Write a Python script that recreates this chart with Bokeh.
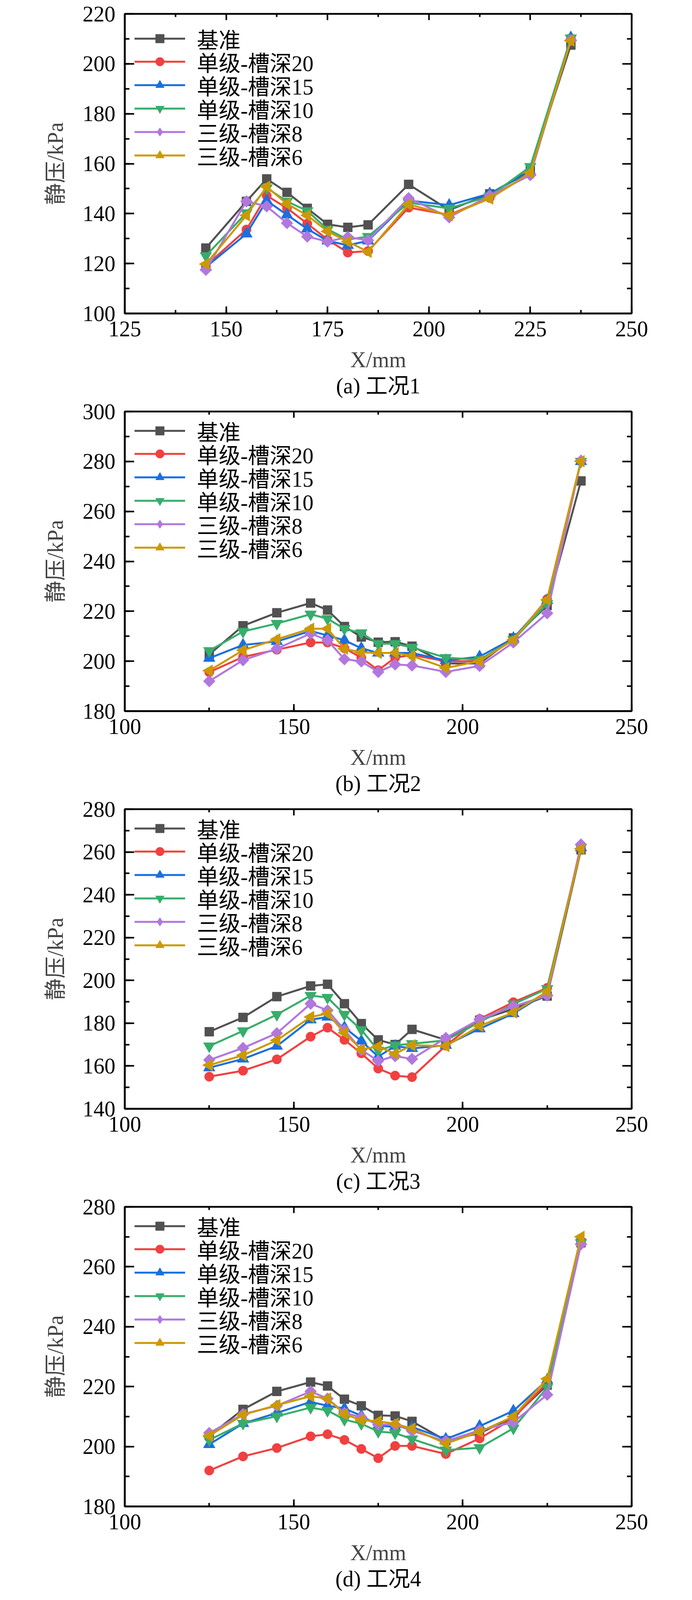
import numpy as np
from bokeh.plotting import figure
from bokeh.models import (Range1d, LinearAxis, SingleIntervalTicker, FixedTicker, Title,
                          Legend, LegendItem)
from bokeh.layouts import column
from bokeh.embed import file_html
from bokeh.resources import INLINE

# ---------------- data ----------------
series_names = ["基准", "单级-槽深20", "单级-槽深15", "单级-槽深10", "三级-槽深8", "三级-槽深6"]

x_case1 = [145, 155, 160, 165, 170, 175, 180, 185, 195, 205, 215, 225, 235]
c1_base = [126.2, 144.9, 153.9, 148.5, 142.1, 135.7, 134.5, 135.5, 151.7, 141.4, 147.9, 157.3, 207.5]
c1_s20 = [119.1, 133.6, 147.2, 142.2, 136.0, 129.6, 124.4, 125.0, 142.4, 139.5, 146.3, 156.0, 210.2]
c1_s15 = [118.6, 131.9, 145.2, 139.5, 133.9, 129.1, 127.3, 129.1, 145.2, 143.4, 148.0, 156.8, 210.5]
c1_s10 = [123.1, 140.3, 150.3, 144.9, 141.1, 133.7, 129.6, 130.8, 144.4, 142.1, 147.0, 158.8, 210.3]
c1_t8 = [117.5, 144.9, 142.9, 136.2, 130.8, 128.8, 130.6, 129.3, 146.2, 138.5, 147.2, 155.4, 209.5]
c1_t6 = [119.8, 139.3, 150.8, 143.9, 139.3, 132.9, 128.8, 124.7, 143.7, 139.3, 146.0, 156.4, 209.3]

x_case234 = [125, 135, 145, 155, 160, 165, 170, 175, 180, 185, 195, 205, 215, 225, 235]
c2_base = [202.7, 214.2, 219.4, 223.3, 220.5, 213.9, 209.7, 207.6, 207.8, 206.0, 199.1, 199.1, 209.3, 222.3, 272.2]
c2_s20 = [195.6, 201.7, 204.6, 207.5, 207.5, 205.2, 201.4, 196.4, 201.4, 202.5, 200.0, 200.0, 208.6, 224.9, 280.1]
c2_s15 = [201.2, 206.5, 207.9, 212.1, 210.3, 208.4, 205.2, 203.3, 203.3, 203.3, 200.3, 201.8, 209.2, 224.3, 280.0]
c2_s10 = [204.2, 211.9, 215.1, 218.8, 217.0, 213.0, 211.3, 207.0, 207.0, 205.5, 201.4, 200.6, 208.6, 223.0, 280.0]
c2_t8 = [192.0, 200.4, 205.0, 211.1, 208.4, 200.8, 199.9, 195.7, 198.7, 198.3, 195.7, 198.1, 207.5, 219.2, 280.3]
c2_t6 = [196.2, 204.4, 208.8, 213.0, 213.0, 205.0, 203.5, 203.3, 203.3, 202.1, 197.3, 200.0, 208.6, 224.6, 280.1]

c3_base = [176.0, 182.7, 192.4, 197.4, 198.2, 189.1, 179.8, 172.2, 170.0, 177.1, 172.2, 181.4, 186.7, 192.7, 261.0]
c3_s20 = [155.0, 157.8, 163.1, 173.7, 177.9, 172.2, 165.9, 158.8, 155.5, 154.8, 169.5, 182.0, 189.8, 196.5, 262.0]
c3_s15 = [159.2, 163.3, 169.3, 181.6, 182.9, 178.0, 171.7, 164.4, 169.3, 168.2, 169.7, 177.4, 184.5, 194.3, 262.0]
c3_s10 = [169.3, 176.4, 184.0, 192.9, 192.0, 184.1, 176.9, 167.3, 169.7, 170.4, 172.0, 180.5, 188.9, 196.1, 262.0]
c3_t8 = [162.8, 168.4, 175.3, 189.1, 186.0, 176.9, 167.5, 162.4, 164.6, 163.3, 173.1, 181.8, 187.8, 192.9, 263.5]
c3_t6 = [160.4, 165.0, 172.0, 182.9, 184.5, 175.5, 167.7, 169.1, 165.7, 169.7, 169.3, 178.7, 185.0, 194.8, 261.5]

c4_base = [203.6, 212.4, 218.4, 221.5, 220.2, 215.8, 213.6, 210.4, 210.2, 208.4, 202.0, 204.4, 209.8, 220.5, 268.0]
c4_s20 = [192.0, 196.7, 199.5, 203.4, 204.1, 202.2, 199.2, 196.1, 200.2, 200.2, 197.5, 202.7, 209.4, 221.4, 268.0]
c4_s15 = [200.7, 207.7, 211.2, 214.9, 213.6, 212.7, 210.3, 207.0, 206.5, 206.5, 202.5, 206.8, 211.9, 222.2, 268.5]
c4_s10 = [202.2, 207.7, 210.1, 213.0, 212.0, 209.0, 207.6, 205.0, 204.5, 202.5, 198.8, 199.6, 206.1, 219.7, 268.0]
c4_t8 = [204.5, 210.8, 213.6, 218.4, 216.0, 211.2, 209.8, 207.3, 207.3, 205.2, 201.8, 205.4, 208.1, 217.3, 267.5]
c4_t6 = [203.6, 210.6, 213.8, 216.8, 216.0, 210.8, 208.8, 208.4, 207.6, 206.0, 201.0, 204.9, 210.0, 222.6, 270.0]

# axis ranges and tick steps
x_range_case1 = (125, 250)
x_range_case234 = (100, 250)
y_ranges = [(100, 220), (180, 300), (140, 280), (180, 280)]
x_step = [25, 50, 50, 50]
y_step = 20

captions = ["(a) 工况1", "(b) 工况2", "(c) 工况3", "(d) 工况4"]
x_label = "X/mm"
y_label = "静压/kPa"

# ---------------- styles ----------------
FONT = "Liberation Serif, Noto Sans CJK SC"
FS = "56px"
colors = ["#515151", "#F14040", "#1A6FDF", "#37AD6B", "#B177DE", "#CC9900"]
markers = ["square", "circle", "triangle", "inverted_triangle", "square", "triangle"]
msizes = [23, 24, 30, 30, 21.5, 30]
angles = [0, 0, 0, 0, np.pi / 4, np.pi / 2]

# the photographed viewport is only about 1772 x 4100 px: the four panels are stacked to fit it
FW, FH = 1298, 767
BL, BR, BT, BB = 319, 139, 35, 216
ITEM_H = 81            # legend row box height for 56px text
ROW_PITCH = 59.8       # distance between legend rows

panels = [
    dict(x=x_case1, ys=[c1_base, c1_s20, c1_s15, c1_s10, c1_t8, c1_t6],
         xr=x_range_case1, yr=y_ranges[0], xint=x_step[0], leg=63),
    dict(x=x_case234, ys=[c2_base, c2_s20, c2_s15, c2_s10, c2_t8, c2_t6],
         xr=x_range_case234, yr=y_ranges[1], xint=x_step[1], leg=49),
    dict(x=x_case234, ys=[c3_base, c3_s20, c3_s15, c3_s10, c3_t8, c3_t6],
         xr=x_range_case234, yr=y_ranges[2], xint=x_step[2], leg=49),
    dict(x=x_case234, ys=[c4_base, c4_s20, c4_s15, c4_s10, c4_t8, c4_t6],
         xr=x_range_case234, yr=y_ranges[3], xint=x_step[3], leg=49),
]


def tick_values(lo, hi, step):
    major = list(np.arange(lo, hi + step / 2, step))
    minor = list(np.arange(lo + step / 2, hi, step))
    return major, minor


def style_axis(ax, major_len, minor_len):
    ax.axis_line_width = 4.5
    ax.axis_line_color = "black"
    ax.major_tick_line_width = 4
    ax.minor_tick_line_width = 4
    ax.major_tick_in = major_len
    ax.major_tick_out = 0
    ax.minor_tick_in = minor_len
    ax.minor_tick_out = 0
    ax.major_tick_line_color = "black"
    ax.minor_tick_line_color = "black"
    ax.major_label_text_font = FONT
    ax.major_label_text_font_size = FS
    ax.major_label_text_color = "black"


def mirror_axis(positions, length):
    """tick marks only (no labels) for the top / right frame sides"""
    ax = LinearAxis(ticker=FixedTicker(ticks=[], minor_ticks=positions))
    ax.axis_line_color = None
    ax.major_tick_line_color = None
    ax.minor_tick_line_color = "black"
    ax.minor_tick_line_width = 4
    ax.minor_tick_in = length
    ax.minor_tick_out = 0
    ax.major_tick_in = 0
    ax.major_tick_out = 0
    ax.major_label_standoff = 0
    return ax


figs = []
for i, pan in enumerate(panels):
    xr, yr = pan["xr"], pan["yr"]
    p = figure(frame_width=FW, frame_height=FH,
               x_range=Range1d(*xr), y_range=Range1d(*yr),
               output_backend="svg", toolbar_location=None,
               min_border_left=BL, min_border_right=BR,
               min_border_top=BT, min_border_bottom=BB,
               background_fill_color="white", border_fill_color="white")
    p.grid.visible = False
    p.outline_line_color = "black"
    p.outline_line_width = 4.5

    p.xaxis[0].ticker = SingleIntervalTicker(interval=pan["xint"], num_minor_ticks=2)
    p.yaxis[0].ticker = SingleIntervalTicker(interval=y_step, num_minor_ticks=2)
    style_axis(p.xaxis[0], 18, 9)
    style_axis(p.yaxis[0], 24, 12)
    p.xaxis[0].major_label_standoff = 20
    p.yaxis[0].major_label_standoff = 24
    p.yaxis[0].axis_label = y_label
    p.yaxis[0].axis_label_text_font = FONT
    p.yaxis[0].axis_label_text_font_size = FS
    p.yaxis[0].axis_label_text_font_style = "normal"
    p.yaxis[0].axis_label_standoff = 36
    p.xaxis[0].axis_label = x_label
    p.xaxis[0].axis_label_text_font = FONT
    p.xaxis[0].axis_label_text_font_size = FS
    p.xaxis[0].axis_label_text_font_style = "normal"
    p.xaxis[0].axis_label_standoff = 26

    xmaj, xmin = tick_values(xr[0], xr[1], pan["xint"])
    ymaj, ymin = tick_values(yr[0], yr[1], y_step)
    for pos, ln, side in [(xmaj, 16, "above"), (xmin, 8, "above"),
                          (ymaj, 24, "right"), (ymin, 12, "right")]:
        p.add_layout(mirror_axis(pos, ln), side)

    cap = Title(text=captions[i], align="center", text_font=FONT, text_font_size=FS,
                text_font_style="normal", text_color="black", standoff=0)
    p.add_layout(cap, "below")

    for k in range(6):
        lr = p.line(pan["x"], pan["ys"][k], line_width=5, color=colors[k])
        rends = [lr]
        if k == 4:
            # small diamond underneath the rotated square: used as the legend symbol
            rends.append(p.scatter(pan["x"], pan["ys"][k], marker="diamond", size=20,
                                   color=colors[k]))
        sr = p.scatter(pan["x"], pan["ys"][k], marker=markers[k], size=msizes[k],
                       angle=angles[k], color=colors[k], line_color=colors[k])
        if k != 4:
            rends.append(sr)
        centre = pan["leg"] + k * ROW_PITCH
        lg = Legend(items=[LegendItem(label=series_names[k], renderers=rends)],
                    location=(25, FH - centre - ITEM_H / 2))
        lg.border_line_color = None
        lg.background_fill_alpha = 0
        lg.label_text_font = FONT
        lg.label_text_font_size = FS
        lg.label_text_color = "black"
        lg.label_standoff = 30
        lg.glyph_width = 130
        lg.glyph_height = 55
        lg.label_height = 40
        lg.spacing = 0
        lg.padding = 0
        lg.margin = 0
        p.add_layout(lg)
    figs.append(p)

layout = column(*figs, spacing=0)
open("out.html", "w").write(file_html(layout, INLINE))
